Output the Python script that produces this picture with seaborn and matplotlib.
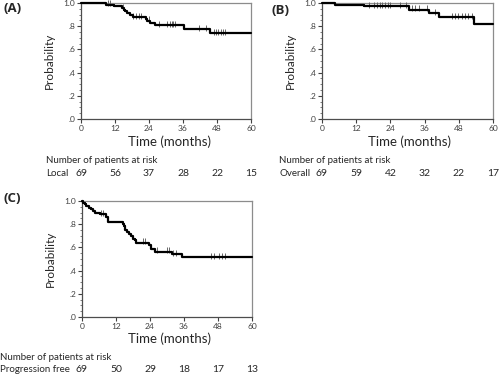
import numpy as np
import seaborn as sns
import matplotlib
matplotlib.use("Agg")
import matplotlib.pyplot as plt
from matplotlib.ticker import MultipleLocator, FuncFormatter
from matplotlib.transforms import blended_transform_factory

sns.set_style("ticks")
plt.rcParams['font.family'] = ['Lato', 'DejaVu Sans']

# (A) local control
a_time = [0, 8.8, 11.7, 14.5, 15.0, 15.6, 16.2, 17.4, 18.5, 22.8, 23.4, 24.2, 26.0, 36.5, 45.4, 60]
a_surv = [1.0, 0.985, 0.971, 0.956, 0.941, 0.927, 0.912, 0.898, 0.876, 0.861, 0.846, 0.831, 0.810, 0.776, 0.741, 0.741]
a_cens = [9.5, 10.2, 14.8, 18.5, 19.4, 20.3, 21.3, 24.0, 27.5, 30.2, 31.3, 32.0, 32.6, 33.2,
          41.8, 44.0, 46.8, 47.6, 48.5, 49.3, 50.1, 50.8]
a_risk = [69, 56, 37, 28, 22, 15]

# (B) overall survival
b_time = [0, 4.6, 14.7, 30.4, 37.5, 41.0, 53.2, 60]
b_surv = [1.0, 0.985, 0.970, 0.943, 0.910, 0.876, 0.822, 0.822]
b_cens = [16.5, 18.2, 19.4, 20.2, 21.1, 22.0, 23.2, 24.0, 27.5, 29.3, 31.6, 32.5, 33.9, 36.8,
          39.7, 45.5, 46.7, 47.8, 49.0, 50.2, 51.3, 52.5]
b_risk = [69, 59, 42, 32, 22, 17]

# (C) progression free survival
c_time = [0, 0.4, 0.9, 1.5, 2.3, 3.0, 3.8, 4.5, 6.2, 8.4, 9.3, 14.4, 14.8, 15.3, 15.9, 16.5,
          17.2, 17.9, 18.6, 19.2, 23.6, 24.2, 25.7, 31.7, 35.4, 60]
c_surv = [1.0, 0.986, 0.971, 0.957, 0.942, 0.928, 0.913, 0.899, 0.884, 0.862, 0.822, 0.802,
          0.783, 0.754, 0.735, 0.715, 0.696, 0.676, 0.661, 0.642, 0.620, 0.585, 0.564, 0.544,
          0.513, 0.513]
c_cens = [6.7, 7.5, 21.6, 22.4, 26.6, 30.0, 30.7, 32.2, 33.0, 45.6, 46.5, 48.4, 49.5, 50.4]
c_risk = [69, 50, 29, 18, 17, 13]

risk_ticks = [0, 12, 24, 36, 48, 60]

W, H = 500, 375
fig = plt.figure(figsize=(5, 3.75), dpi=100)


def px(x, y):
    return x / W, 1 - y / H


def km_panel(rect, time, surv, cens, risk, tag, tag_xy, row_name, text_x, title_y):
    ax = fig.add_axes(rect)
    sns.lineplot(x=time, y=surv, drawstyle="steps-post", estimator=None, sort=False,
                 color="black", linewidth=1.6, ax=ax, clip_on=False, zorder=4)
    idx = np.searchsorted(time, cens, side="right") - 1
    sns.scatterplot(x=cens, y=np.asarray(surv)[idx] + 0.012, marker="|", s=18,
                    color="0.4", linewidth=0.7, ax=ax, clip_on=False, zorder=3)
    ax.set_xlim(0, 60)
    ax.set_ylim(0, 1.0)
    ax.set_xticks(risk_ticks)
    ax.set_yticks([0, 0.2, 0.4, 0.6, 0.8, 1.0])
    ax.yaxis.set_minor_locator(MultipleLocator(0.05))
    ax.yaxis.set_major_formatter(FuncFormatter(
        lambda v, p: "1.0" if v >= 0.999 else ("%.1f" % v)[1:]))
    ax.tick_params(labelsize=6, length=3, width=0.8, pad=1, colors="0.25")
    ax.tick_params(which="minor", length=1.5, width=0.6, colors="0.4")
    for s in ["left", "bottom"]:
        ax.spines[s].set_color("0.3")
        ax.spines[s].set_linewidth(0.9)
    for s in ["top", "right"]:
        ax.spines[s].set_color("0.55")
        ax.spines[s].set_linewidth(0.9)
    ax.set_ylabel("Probability", fontsize=8.5, labelpad=6)
    ax.set_xlabel("")

    fig.text(*px(*tag_xy), tag, fontsize=9.5, fontweight="bold", va="center", ha="left",
             family=["Open Sans", "DejaVu Sans"])
    # axis title and risk table
    fig.text(*px(text_x[1], title_y), "Time (months)", fontsize=9.5, ha="center", va="center")
    fig.text(*px(text_x[0], title_y + 18), "Number of patients at risk", fontsize=7,
             ha="left", va="center")
    fig.text(*px(text_x[0], title_y + 31), row_name, fontsize=7, ha="left", va="center")
    trans = blended_transform_factory(ax.transData, fig.transFigure)
    for t, n in zip(risk_ticks, risk):
        ax.text(t, 1 - (title_y + 31) / H, str(n), transform=trans, fontsize=7.5,
                ha="center", va="center")
    return ax


km_panel([81 / W, 1 - 119 / H, 170 / W, 116 / H], a_time, a_surv, a_cens, a_risk,
         "(A)", (3, 9), "Local", (46, 170), 142)
km_panel([322 / W, 1 - 119 / H, 171 / W, 116 / H], b_time, b_surv, b_cens, b_risk,
         "(B)", (272, 10), "Overall", (279, 410), 142)
km_panel([82 / W, 1 - 317 / H, 170 / W, 116 / H], c_time, c_surv, c_cens, c_risk,
         "(C)", (3, 198), "Progression free", (0, 170), 339)

fig.savefig("out.png", dpi=100, facecolor="white")
